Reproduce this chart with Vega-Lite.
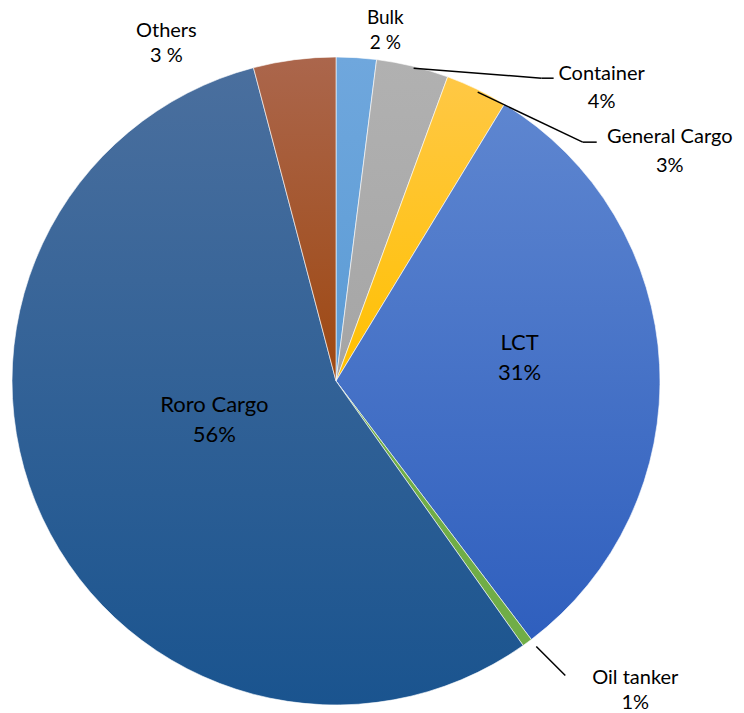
{
  "$schema": "https://vega.github.io/schema/vega-lite/v6.json",
  "width": 648,
  "height": 648,
  "autosize": {"type": "none"},
  "padding": {"left": 12, "top": 57, "right": 84, "bottom": 8},
  "background": "white",
  "config": {"view": {"stroke": null}, "text": {"font": "Lato", "color": "black"}},
  "data": {"values": [
    {"type": "Bulk", "order": 1, "value": 2.0, "lab": "Bulk\n2 %"},
    {"type": "Container", "order": 2, "value": 3.6, "lab": "Container\n4%"},
    {"type": "General Cargo", "order": 3, "value": 3.1, "lab": "General Cargo\n3%"},
    {"type": "LCT", "order": 4, "value": 31.0, "lab": "LCT\n31%"},
    {"type": "Oil tanker", "order": 5, "value": 0.5, "lab": "Oil tanker\n1%"},
    {"type": "Roro Cargo", "order": 6, "value": 55.7, "lab": "Roro Cargo\n56%"},
    {"type": "Others", "order": 7, "value": 4.1, "lab": "Others\n3 %"}
  ]},
  "transform": [
    {"stack": "value", "groupby": [], "sort": [{"field": "order", "order": "ascending"}], "as": ["v0", "v1"]},
    {"calculate": "(datum.v0 + datum.v1) / 2", "as": "mid"},
    {"calculate": "sin(datum.mid / 100 * 2 * PI)", "as": "sx"},
    {"calculate": "cos(datum.mid / 100 * 2 * PI)", "as": "sy"}
  ],
  "layer": [
    {
      "mark": {"type": "arc", "outerRadius": 324, "stroke": "white", "strokeWidth": 0.6},
      "encoding": {
        "theta": {"field": "v0", "type": "quantitative", "stack": null, "scale": {"domain": [0, 100]}},
        "theta2": {"field": "v1"},
        "fill": {
          "condition": [
            {"test": "datum.type === 'Bulk'", "value": {"gradient": "linear", "x1": 0, "y1": 0, "x2": 0, "y2": 1, "stops": [{"offset": 0, "color": "#6fa7dd"}, {"offset": 1, "color": "#5b9bd5"}]}},
            {"test": "datum.type === 'Container'", "value": {"gradient": "linear", "x1": 0, "y1": 0, "x2": 0, "y2": 1, "stops": [{"offset": 0, "color": "#b1b1b1"}, {"offset": 1, "color": "#a5a5a5"}]}},
            {"test": "datum.type === 'General Cargo'", "value": {"gradient": "linear", "x1": 0, "y1": 0, "x2": 0, "y2": 1, "stops": [{"offset": 0, "color": "#ffc845"}, {"offset": 1, "color": "#ffc000"}]}},
            {"test": "datum.type === 'LCT'", "value": {"gradient": "linear", "x1": 0, "y1": 0, "x2": 0, "y2": 1, "stops": [{"offset": 0, "color": "#5e86d0"}, {"offset": 1, "color": "#2f5fbe"}]}},
            {"test": "datum.type === 'Oil tanker'", "value": "#70ad47"},
            {"test": "datum.type === 'Roro Cargo'", "value": {"gradient": "linear", "x1": 0, "y1": 0, "x2": 0, "y2": 1, "stops": [{"offset": 0, "color": "#4a6f9e"}, {"offset": 1, "color": "#1a548f"}]}}
          ],
          "value": {"gradient": "linear", "x1": 0, "y1": 0, "x2": 0, "y2": 1, "stops": [{"offset": 0, "color": "#ab664c"}, {"offset": 1, "color": "#9e4811"}]}
        }
      }
    },
    {
      "transform": [{"filter": "datum.type === 'Bulk'"}],
      "mark": {"type": "text", "radius": 324, "dx": 29, "dy": -34, "fontSize": 19, "lineHeight": 25, "lineBreak": "\n", "align": "center", "baseline": "alphabetic"},
      "encoding": {"theta": {"field": "mid", "type": "quantitative", "stack": null}, "text": {"field": "lab"}}
    },
    {
      "transform": [{"filter": "datum.type === 'Container'"}],
      "mark": {"type": "text", "radius": 324, "dx": 189, "dy": 14, "fontSize": 20, "lineHeight": 28, "lineBreak": "\n", "align": "center", "baseline": "alphabetic"},
      "encoding": {"theta": {"field": "mid", "type": "quantitative", "stack": null}, "text": {"field": "lab"}}
    },
    {
      "transform": [{"filter": "datum.type === 'General Cargo'"}],
      "mark": {"type": "text", "radius": 324, "dx": 193, "dy": 54, "fontSize": 20, "lineHeight": 29, "lineBreak": "\n", "align": "center", "baseline": "alphabetic"},
      "encoding": {"theta": {"field": "mid", "type": "quantitative", "stack": null}, "text": {"field": "lab"}}
    },
    {
      "transform": [{"filter": "datum.type === 'LCT'"}],
      "mark": {"type": "text", "radius": 324, "dx": -140, "dy": -15, "fontSize": 22, "lineHeight": 30, "lineBreak": "\n", "align": "center", "baseline": "alphabetic"},
      "encoding": {"theta": {"field": "mid", "type": "quantitative", "stack": null}, "text": {"field": "lab"}}
    },
    {
      "transform": [{"filter": "datum.type === 'Oil tanker'"}],
      "mark": {"type": "text", "radius": 324, "dx": 108, "dy": 41, "fontSize": 20, "lineHeight": 25, "lineBreak": "\n", "align": "center", "baseline": "alphabetic"},
      "encoding": {"theta": {"field": "mid", "type": "quantitative", "stack": null}, "text": {"field": "lab"}}
    },
    {
      "transform": [{"filter": "datum.type === 'Roro Cargo'"}],
      "mark": {"type": "text", "radius": 324, "dx": 172, "dy": -106, "fontSize": 22, "lineHeight": 30, "lineBreak": "\n", "align": "center", "baseline": "alphabetic"},
      "encoding": {"theta": {"field": "mid", "type": "quantitative", "stack": null}, "text": {"field": "lab"}}
    },
    {
      "transform": [{"filter": "datum.type === 'Others'"}],
      "mark": {"type": "text", "radius": 324, "dx": -128, "dy": -23, "fontSize": 20, "lineHeight": 25, "lineBreak": "\n", "align": "center", "baseline": "alphabetic"},
      "encoding": {"theta": {"field": "mid", "type": "quantitative", "stack": null}, "text": {"field": "lab"}}
    },
    {
      "transform": [{"filter": "datum.type === 'Container'"}],
      "mark": {"type": "rule", "color": "black", "strokeWidth": 1.5, "xOffset": 1, "yOffset": 2, "x2Offset": 129, "y2Offset": 12},
      "encoding": {
        "x": {"field": "sx", "type": "quantitative", "scale": {"domain": [-1, 1], "nice": false, "zero": false}, "axis": null},
        "y": {"field": "sy", "type": "quantitative", "scale": {"domain": [-1, 1], "nice": false, "zero": false}, "axis": null},
        "x2": {"field": "sx"}, "y2": {"field": "sy"}
      }
    },
    {
      "transform": [{"filter": "datum.type === 'Container'"}],
      "mark": {"type": "rule", "color": "black", "strokeWidth": 1.5, "xOffset": 129, "yOffset": 12, "x2Offset": 141, "y2Offset": 12},
      "encoding": {
        "x": {"field": "sx", "type": "quantitative"},
        "y": {"field": "sy", "type": "quantitative"},
        "x2": {"field": "sx"}, "y2": {"field": "sy"}
      }
    },
    {
      "transform": [{"filter": "datum.type === 'General Cargo'"}],
      "mark": {"type": "rule", "color": "black", "strokeWidth": 1.5, "xOffset": 1, "yOffset": 3, "x2Offset": 106, "y2Offset": 53},
      "encoding": {
        "x": {"field": "sx", "type": "quantitative"},
        "y": {"field": "sy", "type": "quantitative"},
        "x2": {"field": "sx"}, "y2": {"field": "sy"}
      }
    },
    {
      "transform": [{"filter": "datum.type === 'General Cargo'"}],
      "mark": {"type": "rule", "color": "black", "strokeWidth": 1.5, "xOffset": 106, "yOffset": 53, "x2Offset": 120, "y2Offset": 53},
      "encoding": {
        "x": {"field": "sx", "type": "quantitative"},
        "y": {"field": "sy", "type": "quantitative"},
        "x2": {"field": "sx"}, "y2": {"field": "sy"}
      }
    },
    {
      "transform": [{"filter": "datum.type === 'Oil tanker'"}],
      "mark": {"type": "rule", "color": "black", "strokeWidth": 1.5, "xOffset": 9, "yOffset": 4, "x2Offset": 38, "y2Offset": 33},
      "encoding": {
        "x": {"field": "sx", "type": "quantitative"},
        "y": {"field": "sy", "type": "quantitative"},
        "x2": {"field": "sx"}, "y2": {"field": "sy"}
      }
    }
  ]
}
